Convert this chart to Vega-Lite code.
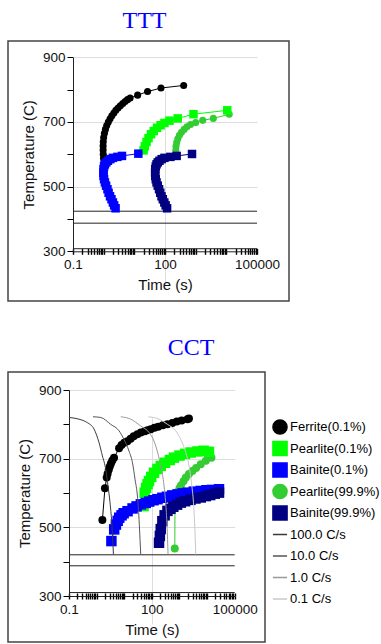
{
  "$schema": "https://vega.github.io/schema/vega-lite/v6.json",
  "autosize": {"type": "pad"},
  "padding": {"left": 7, "top": 8, "right": 0, "bottom": 0},
  "spacing": 33,
  "config": {
    "view": {"stroke": "#444444", "strokeWidth": 1.5},
    "font": "Liberation Sans",
    "title": {"font": "Liberation Serif", "fontSize": 24, "fontWeight": "normal", "color": "#0000ff", "anchor": "middle", "frame": "bounds", "offset": 8},
    "axis": {"labelFont": "Liberation Sans", "labelFontSize": 13.5, "labelColor": "#111111", "titleFont": "Liberation Sans", "titleFontSize": 15, "titleFontWeight": "normal", "titleColor": "#111111", "domainColor": "#222222", "tickColor": "#000000", "gridColor": "#dddddd", "labelOverlap": false, "labelFlush": false},
    "legend": {"symbolSize": 200, "symbolStrokeWidth": 1.5, "labelFont": "Liberation Sans", "labelFontSize": 13, "labelColor": "#000000", "rowPadding": 4.5, "clipHeight": 17, "labelOffset": 2, "padding": 0}
  },
  "resolve": {"scale": {"x": "independent", "y": "independent", "fill": "independent", "stroke": "independent", "shape": "independent"}},
  "datasets": {
    "ttt_ms": [{"T": 424, "t0": 0.1, "t1": 100000}, {"T": 387, "t0": 0.1, "t1": 100000}, {"T": 308, "t0": 0.1, "t1": 100000}],
    "cct_ms": [{"T": 420, "t0": 0.1, "t1": 100000}, {"T": 388, "t0": 0.1, "t1": 100000}, {"T": 310, "t0": 0.1, "t1": 100000}],
    "ttt": [
      {"s": "Ferrite(0.1%)", "i": 1, "t": 1.02, "T": 575},
      {"s": "Ferrite(0.1%)", "i": 2, "t": 0.99, "T": 588},
      {"s": "Ferrite(0.1%)", "i": 3, "t": 0.97, "T": 600},
      {"s": "Ferrite(0.1%)", "i": 4, "t": 0.96, "T": 613},
      {"s": "Ferrite(0.1%)", "i": 5, "t": 0.96, "T": 626},
      {"s": "Ferrite(0.1%)", "i": 6, "t": 0.97, "T": 639},
      {"s": "Ferrite(0.1%)", "i": 7, "t": 1.0, "T": 652},
      {"s": "Ferrite(0.1%)", "i": 8, "t": 1.06, "T": 665},
      {"s": "Ferrite(0.1%)", "i": 9, "t": 1.14, "T": 677},
      {"s": "Ferrite(0.1%)", "i": 10, "t": 1.26, "T": 689},
      {"s": "Ferrite(0.1%)", "i": 11, "t": 1.42, "T": 700},
      {"s": "Ferrite(0.1%)", "i": 12, "t": 1.62, "T": 710},
      {"s": "Ferrite(0.1%)", "i": 13, "t": 1.85, "T": 719},
      {"s": "Ferrite(0.1%)", "i": 14, "t": 2.15, "T": 728},
      {"s": "Ferrite(0.1%)", "i": 15, "t": 2.5, "T": 736},
      {"s": "Ferrite(0.1%)", "i": 16, "t": 2.95, "T": 743},
      {"s": "Ferrite(0.1%)", "i": 17, "t": 3.5, "T": 750},
      {"s": "Ferrite(0.1%)", "i": 18, "t": 4.2, "T": 757},
      {"s": "Ferrite(0.1%)", "i": 19, "t": 5.0, "T": 763},
      {"s": "Ferrite(0.1%)", "i": 20, "t": 6.0, "T": 769},
      {"s": "Ferrite(0.1%)", "i": 21, "t": 7.3, "T": 774},
      {"s": "Ferrite(0.1%)", "i": 22, "t": 12.8, "T": 783},
      {"s": "Ferrite(0.1%)", "i": 23, "t": 27, "T": 794},
      {"s": "Ferrite(0.1%)", "i": 24, "t": 74, "T": 805},
      {"s": "Ferrite(0.1%)", "i": 25, "t": 407, "T": 813},
      {"s": "Pearlite(0.1%)", "i": 1, "t": 20, "T": 612},
      {"s": "Pearlite(0.1%)", "i": 2, "t": 22, "T": 625},
      {"s": "Pearlite(0.1%)", "i": 3, "t": 25, "T": 638},
      {"s": "Pearlite(0.1%)", "i": 4, "t": 29, "T": 650},
      {"s": "Pearlite(0.1%)", "i": 5, "t": 35, "T": 662},
      {"s": "Pearlite(0.1%)", "i": 6, "t": 43, "T": 672},
      {"s": "Pearlite(0.1%)", "i": 7, "t": 55, "T": 682},
      {"s": "Pearlite(0.1%)", "i": 8, "t": 72, "T": 690},
      {"s": "Pearlite(0.1%)", "i": 9, "t": 96, "T": 697},
      {"s": "Pearlite(0.1%)", "i": 10, "t": 140, "T": 704},
      {"s": "Pearlite(0.1%)", "i": 11, "t": 260, "T": 711},
      {"s": "Pearlite(0.1%)", "i": 12, "t": 850, "T": 724},
      {"s": "Pearlite(0.1%)", "i": 13, "t": 10700, "T": 736},
      {"s": "Bainite(0.1%)", "i": 1, "t": 2.45, "T": 433},
      {"s": "Bainite(0.1%)", "i": 2, "t": 2.2, "T": 442},
      {"s": "Bainite(0.1%)", "i": 3, "t": 2.0, "T": 451},
      {"s": "Bainite(0.1%)", "i": 4, "t": 1.8, "T": 461},
      {"s": "Bainite(0.1%)", "i": 5, "t": 1.61, "T": 470},
      {"s": "Bainite(0.1%)", "i": 6, "t": 1.45, "T": 481},
      {"s": "Bainite(0.1%)", "i": 7, "t": 1.33, "T": 492},
      {"s": "Bainite(0.1%)", "i": 8, "t": 1.2, "T": 503},
      {"s": "Bainite(0.1%)", "i": 9, "t": 1.1, "T": 513},
      {"s": "Bainite(0.1%)", "i": 10, "t": 1.03, "T": 523},
      {"s": "Bainite(0.1%)", "i": 11, "t": 0.99, "T": 533},
      {"s": "Bainite(0.1%)", "i": 12, "t": 0.98, "T": 543},
      {"s": "Bainite(0.1%)", "i": 13, "t": 0.99, "T": 554},
      {"s": "Bainite(0.1%)", "i": 14, "t": 1.03, "T": 562},
      {"s": "Bainite(0.1%)", "i": 15, "t": 1.1, "T": 569},
      {"s": "Bainite(0.1%)", "i": 16, "t": 1.22, "T": 575},
      {"s": "Bainite(0.1%)", "i": 17, "t": 1.38, "T": 580},
      {"s": "Bainite(0.1%)", "i": 18, "t": 1.65, "T": 585},
      {"s": "Bainite(0.1%)", "i": 19, "t": 2.0, "T": 589},
      {"s": "Bainite(0.1%)", "i": 20, "t": 2.8, "T": 592},
      {"s": "Bainite(0.1%)", "i": 21, "t": 3.96, "T": 595},
      {"s": "Bainite(0.1%)", "i": 22, "t": 13.5, "T": 602},
      {"s": "Pearlite(99.9%)", "i": 1, "t": 225, "T": 612},
      {"s": "Pearlite(99.9%)", "i": 2, "t": 228, "T": 624},
      {"s": "Pearlite(99.9%)", "i": 3, "t": 240, "T": 636},
      {"s": "Pearlite(99.9%)", "i": 4, "t": 262, "T": 648},
      {"s": "Pearlite(99.9%)", "i": 5, "t": 295, "T": 659},
      {"s": "Pearlite(99.9%)", "i": 6, "t": 345, "T": 668},
      {"s": "Pearlite(99.9%)", "i": 7, "t": 420, "T": 677},
      {"s": "Pearlite(99.9%)", "i": 8, "t": 520, "T": 685},
      {"s": "Pearlite(99.9%)", "i": 9, "t": 680, "T": 692},
      {"s": "Pearlite(99.9%)", "i": 10, "t": 1000, "T": 698},
      {"s": "Pearlite(99.9%)", "i": 11, "t": 1700, "T": 705},
      {"s": "Pearlite(99.9%)", "i": 12, "t": 3760, "T": 711},
      {"s": "Pearlite(99.9%)", "i": 13, "t": 12400, "T": 724},
      {"s": "Bainite(99.9%)", "i": 1, "t": 117, "T": 433},
      {"s": "Bainite(99.9%)", "i": 2, "t": 105, "T": 442},
      {"s": "Bainite(99.9%)", "i": 3, "t": 95, "T": 451},
      {"s": "Bainite(99.9%)", "i": 4, "t": 85, "T": 461},
      {"s": "Bainite(99.9%)", "i": 5, "t": 77, "T": 470},
      {"s": "Bainite(99.9%)", "i": 6, "t": 70, "T": 481},
      {"s": "Bainite(99.9%)", "i": 7, "t": 64, "T": 492},
      {"s": "Bainite(99.9%)", "i": 8, "t": 58, "T": 503},
      {"s": "Bainite(99.9%)", "i": 9, "t": 53, "T": 513},
      {"s": "Bainite(99.9%)", "i": 10, "t": 50, "T": 523},
      {"s": "Bainite(99.9%)", "i": 11, "t": 48, "T": 533},
      {"s": "Bainite(99.9%)", "i": 12, "t": 47.5, "T": 543},
      {"s": "Bainite(99.9%)", "i": 13, "t": 48, "T": 554},
      {"s": "Bainite(99.9%)", "i": 14, "t": 50, "T": 562},
      {"s": "Bainite(99.9%)", "i": 15, "t": 53, "T": 569},
      {"s": "Bainite(99.9%)", "i": 16, "t": 58, "T": 575},
      {"s": "Bainite(99.9%)", "i": 17, "t": 66, "T": 580},
      {"s": "Bainite(99.9%)", "i": 18, "t": 78, "T": 585},
      {"s": "Bainite(99.9%)", "i": 19, "t": 96, "T": 589},
      {"s": "Bainite(99.9%)", "i": 20, "t": 150, "T": 592},
      {"s": "Bainite(99.9%)", "i": 21, "t": 240, "T": 595},
      {"s": "Bainite(99.9%)", "i": 22, "t": 760, "T": 601}
    ],
    "cct": [
      {"s": "Ferrite(0.1%)", "i": 1, "t": 1.62, "T": 521},
      {"s": "Ferrite(0.1%)", "i": 2, "t": 2.0, "T": 614},
      {"s": "Ferrite(0.1%)", "i": 3, "t": 2.32, "T": 645},
      {"s": "Ferrite(0.1%)", "i": 4, "t": 2.5, "T": 656},
      {"s": "Ferrite(0.1%)", "i": 5, "t": 2.75, "T": 668},
      {"s": "Ferrite(0.1%)", "i": 6, "t": 3.0, "T": 677},
      {"s": "Ferrite(0.1%)", "i": 7, "t": 3.3, "T": 686},
      {"s": "Ferrite(0.1%)", "i": 8, "t": 3.7, "T": 695},
      {"s": "Ferrite(0.1%)", "i": 9, "t": 4.27, "T": 703},
      {"s": "Ferrite(0.1%)", "i": 10, "t": 6.5, "T": 730},
      {"s": "Ferrite(0.1%)", "i": 11, "t": 8, "T": 740},
      {"s": "Ferrite(0.1%)", "i": 12, "t": 10, "T": 746},
      {"s": "Ferrite(0.1%)", "i": 13, "t": 13, "T": 751},
      {"s": "Ferrite(0.1%)", "i": 14, "t": 17, "T": 758},
      {"s": "Ferrite(0.1%)", "i": 15, "t": 22, "T": 765},
      {"s": "Ferrite(0.1%)", "i": 16, "t": 30, "T": 771},
      {"s": "Ferrite(0.1%)", "i": 17, "t": 40, "T": 776},
      {"s": "Ferrite(0.1%)", "i": 18, "t": 55, "T": 780},
      {"s": "Ferrite(0.1%)", "i": 19, "t": 70, "T": 783},
      {"s": "Ferrite(0.1%)", "i": 20, "t": 91, "T": 786},
      {"s": "Ferrite(0.1%)", "i": 21, "t": 125, "T": 790},
      {"s": "Ferrite(0.1%)", "i": 22, "t": 170, "T": 793},
      {"s": "Ferrite(0.1%)", "i": 23, "t": 250, "T": 797},
      {"s": "Ferrite(0.1%)", "i": 24, "t": 367, "T": 800},
      {"s": "Ferrite(0.1%)", "i": 25, "t": 550, "T": 804},
      {"s": "Ferrite(0.1%)", "i": 26, "t": 800, "T": 808},
      {"s": "Ferrite(0.1%)", "i": 27, "t": 1200, "T": 811},
      {"s": "Ferrite(0.1%)", "i": 28, "t": 1950, "T": 815},
      {"s": "Ferrite(0.1%)", "i": 29, "t": 2200, "T": 817},
      {"s": "Pearlite(0.1%)", "i": 1, "t": 50, "T": 562},
      {"s": "Pearlite(0.1%)", "i": 2, "t": 55, "T": 601},
      {"s": "Pearlite(0.1%)", "i": 3, "t": 62, "T": 615},
      {"s": "Pearlite(0.1%)", "i": 4, "t": 70, "T": 626},
      {"s": "Pearlite(0.1%)", "i": 5, "t": 79, "T": 635},
      {"s": "Pearlite(0.1%)", "i": 6, "t": 95, "T": 647},
      {"s": "Pearlite(0.1%)", "i": 7, "t": 120, "T": 659},
      {"s": "Pearlite(0.1%)", "i": 8, "t": 160, "T": 670},
      {"s": "Pearlite(0.1%)", "i": 9, "t": 210, "T": 679},
      {"s": "Pearlite(0.1%)", "i": 10, "t": 300, "T": 688},
      {"s": "Pearlite(0.1%)", "i": 11, "t": 450, "T": 696},
      {"s": "Pearlite(0.1%)", "i": 12, "t": 630, "T": 703},
      {"s": "Pearlite(0.1%)", "i": 13, "t": 1000, "T": 709},
      {"s": "Pearlite(0.1%)", "i": 14, "t": 1600, "T": 714},
      {"s": "Pearlite(0.1%)", "i": 15, "t": 2570, "T": 718},
      {"s": "Pearlite(0.1%)", "i": 16, "t": 4500, "T": 721},
      {"s": "Pearlite(0.1%)", "i": 17, "t": 7500, "T": 723},
      {"s": "Pearlite(0.1%)", "i": 18, "t": 11700, "T": 720},
      {"s": "Bainite(0.1%)", "i": 1, "t": 3.43, "T": 460},
      {"s": "Bainite(0.1%)", "i": 2, "t": 4.33, "T": 494},
      {"s": "Bainite(0.1%)", "i": 3, "t": 5.0, "T": 508},
      {"s": "Bainite(0.1%)", "i": 4, "t": 5.8, "T": 519},
      {"s": "Bainite(0.1%)", "i": 5, "t": 6.6, "T": 528},
      {"s": "Bainite(0.1%)", "i": 6, "t": 8, "T": 535},
      {"s": "Bainite(0.1%)", "i": 7, "t": 9.5, "T": 541},
      {"s": "Bainite(0.1%)", "i": 8, "t": 13.2, "T": 547},
      {"s": "Bainite(0.1%)", "i": 9, "t": 20, "T": 555},
      {"s": "Bainite(0.1%)", "i": 10, "t": 28, "T": 561},
      {"s": "Bainite(0.1%)", "i": 11, "t": 40, "T": 567},
      {"s": "Bainite(0.1%)", "i": 12, "t": 60, "T": 571},
      {"s": "Bainite(0.1%)", "i": 13, "t": 80, "T": 575},
      {"s": "Bainite(0.1%)", "i": 14, "t": 115, "T": 579},
      {"s": "Bainite(0.1%)", "i": 15, "t": 160, "T": 582},
      {"s": "Bainite(0.1%)", "i": 16, "t": 240, "T": 586},
      {"s": "Bainite(0.1%)", "i": 17, "t": 350, "T": 589},
      {"s": "Bainite(0.1%)", "i": 18, "t": 550, "T": 593},
      {"s": "Bainite(0.1%)", "i": 19, "t": 850, "T": 596},
      {"s": "Bainite(0.1%)", "i": 20, "t": 1300, "T": 599},
      {"s": "Bainite(0.1%)", "i": 21, "t": 2000, "T": 601},
      {"s": "Bainite(0.1%)", "i": 22, "t": 3300, "T": 604},
      {"s": "Bainite(0.1%)", "i": 23, "t": 5900, "T": 606},
      {"s": "Bainite(0.1%)", "i": 24, "t": 9500, "T": 608},
      {"s": "Bainite(0.1%)", "i": 25, "t": 15000, "T": 609},
      {"s": "Bainite(0.1%)", "i": 26, "t": 27000, "T": 611},
      {"s": "Pearlite(99.9%)", "i": 1, "t": 676, "T": 438},
      {"s": "Pearlite(99.9%)", "i": 2, "t": 690, "T": 575},
      {"s": "Pearlite(99.9%)", "i": 3, "t": 740, "T": 590},
      {"s": "Pearlite(99.9%)", "i": 4, "t": 850, "T": 603},
      {"s": "Pearlite(99.9%)", "i": 5, "t": 1000, "T": 614},
      {"s": "Pearlite(99.9%)", "i": 6, "t": 1130, "T": 622},
      {"s": "Pearlite(99.9%)", "i": 7, "t": 1400, "T": 634},
      {"s": "Pearlite(99.9%)", "i": 8, "t": 1700, "T": 645},
      {"s": "Pearlite(99.9%)", "i": 9, "t": 2200, "T": 655},
      {"s": "Pearlite(99.9%)", "i": 10, "t": 2940, "T": 664},
      {"s": "Pearlite(99.9%)", "i": 11, "t": 4000, "T": 673},
      {"s": "Pearlite(99.9%)", "i": 12, "t": 5900, "T": 684},
      {"s": "Pearlite(99.9%)", "i": 13, "t": 9000, "T": 694},
      {"s": "Pearlite(99.9%)", "i": 14, "t": 14400, "T": 703},
      {"s": "Bainite(99.9%)", "i": 1, "t": 182, "T": 455},
      {"s": "Bainite(99.9%)", "i": 2, "t": 195, "T": 475},
      {"s": "Bainite(99.9%)", "i": 3, "t": 210, "T": 495},
      {"s": "Bainite(99.9%)", "i": 4, "t": 240, "T": 518},
      {"s": "Bainite(99.9%)", "i": 5, "t": 290, "T": 535},
      {"s": "Bainite(99.9%)", "i": 6, "t": 367, "T": 548},
      {"s": "Bainite(99.9%)", "i": 7, "t": 470, "T": 554},
      {"s": "Bainite(99.9%)", "i": 8, "t": 600, "T": 560},
      {"s": "Bainite(99.9%)", "i": 9, "t": 820, "T": 566},
      {"s": "Bainite(99.9%)", "i": 10, "t": 1120, "T": 572},
      {"s": "Bainite(99.9%)", "i": 11, "t": 1600, "T": 576},
      {"s": "Bainite(99.9%)", "i": 12, "t": 2500, "T": 580},
      {"s": "Bainite(99.9%)", "i": 13, "t": 3800, "T": 584},
      {"s": "Bainite(99.9%)", "i": 14, "t": 5900, "T": 587},
      {"s": "Bainite(99.9%)", "i": 15, "t": 9000, "T": 591},
      {"s": "Bainite(99.9%)", "i": 16, "t": 13000, "T": 594},
      {"s": "Bainite(99.9%)", "i": 17, "t": 19000, "T": 598},
      {"s": "Bainite(99.9%)", "i": 18, "t": 27000, "T": 601}
    ],
    "cool": [
      {"s": "100.0 C/s", "t": 0.1, "T": 820},
      {"s": "100.0 C/s", "t": 0.23, "T": 815},
      {"s": "100.0 C/s", "t": 0.46, "T": 805},
      {"s": "100.0 C/s", "t": 0.81, "T": 786},
      {"s": "100.0 C/s", "t": 1.22, "T": 747},
      {"s": "100.0 C/s", "t": 1.62, "T": 708},
      {"s": "100.0 C/s", "t": 2.14, "T": 669},
      {"s": "100.0 C/s", "t": 2.59, "T": 620},
      {"s": "100.0 C/s", "t": 3.06, "T": 572},
      {"s": "100.0 C/s", "t": 3.53, "T": 514},
      {"s": "100.0 C/s", "t": 3.83, "T": 465},
      {"s": "100.0 C/s", "t": 4.06, "T": 421},
      {"s": "10.0 C/s", "t": 0.74, "T": 822},
      {"s": "10.0 C/s", "t": 1.41, "T": 820},
      {"s": "10.0 C/s", "t": 3.24, "T": 800},
      {"s": "10.0 C/s", "t": 6.5, "T": 781},
      {"s": "10.0 C/s", "t": 9.8, "T": 756},
      {"s": "10.0 C/s", "t": 14.9, "T": 722},
      {"s": "10.0 C/s", "t": 19.8, "T": 689},
      {"s": "10.0 C/s", "t": 24.6, "T": 640},
      {"s": "10.0 C/s", "t": 30, "T": 591},
      {"s": "10.0 C/s", "t": 34.4, "T": 523},
      {"s": "10.0 C/s", "t": 37.3, "T": 465},
      {"s": "10.0 C/s", "t": 39.6, "T": 421},
      {"s": "1.0 C/s", "t": 7.5, "T": 822},
      {"s": "1.0 C/s", "t": 17.2, "T": 815},
      {"s": "1.0 C/s", "t": 39.6, "T": 795},
      {"s": "1.0 C/s", "t": 79.5, "T": 776},
      {"s": "1.0 C/s", "t": 120, "T": 751},
      {"s": "1.0 C/s", "t": 168, "T": 713},
      {"s": "1.0 C/s", "t": 210, "T": 679},
      {"s": "1.0 C/s", "t": 277, "T": 620},
      {"s": "1.0 C/s", "t": 316, "T": 572},
      {"s": "1.0 C/s", "t": 355, "T": 504},
      {"s": "1.0 C/s", "t": 386, "T": 421},
      {"s": "0.1 C/s", "t": 75, "T": 822},
      {"s": "0.1 C/s", "t": 182, "T": 815},
      {"s": "0.1 C/s", "t": 367, "T": 800},
      {"s": "0.1 C/s", "t": 735, "T": 781},
      {"s": "0.1 C/s", "t": 1114, "T": 756},
      {"s": "0.1 C/s", "t": 1690, "T": 718},
      {"s": "0.1 C/s", "t": 2230, "T": 679},
      {"s": "0.1 C/s", "t": 2720, "T": 630},
      {"s": "0.1 C/s", "t": 3210, "T": 572},
      {"s": "0.1 C/s", "t": 3580, "T": 504},
      {"s": "0.1 C/s", "t": 3890, "T": 421}
    ]
  },
  "vconcat": [
    {
      "title": {"text": "TTT", "dx": -4},
      "width": 281,
      "height": 260,
      "resolve": {"axis": {"x": "independent"}},
      "layer": [
        {
          "data": {"name": "ttt_ms"},
          "mark": {"type": "rule", "color": "#222222", "strokeWidth": 1},
          "encoding": {
            "x": {"field": "t0", "type": "quantitative",
              "scale": {"type": "log", "domain": [0.1, 100000], "range": [65, 249], "nice": false},
              "axis": {"title": "Time (s)", "orient": "bottom", "offset": -49.7, "tickSize": 3, "tickWidth": 1.4, "labelPadding": 3, "titlePadding": 7,
                "values": [0.1,0.2,0.3,0.4,0.5,0.6,0.7,0.8,0.9,1,2,3,4,5,6,7,8,9,10,20,30,40,50,60,70,80,90,100,200,300,400,500,600,700,800,900,1000,2000,3000,4000,5000,6000,7000,8000,9000,10000,20000,30000,40000,50000,60000,70000,80000,90000,100000],
                "labelExpr": "datum.value == 0.1 ? '0.1' : datum.value == 100 ? '100' : datum.value == 100000 ? '100000' : ''",
                "grid": true, "gridOpacity": {"condition": {"test": "datum.value == 100", "value": 1}, "value": 0}}},
            "x2": {"field": "t1"},
            "y": {"field": "T", "type": "quantitative",
              "scale": {"domain": [300, 900], "range": [210.3, 16.3], "nice": false, "zero": false},
              "axis": {"title": "Temperature (C)", "offset": -65, "tickSize": 6, "labelPadding": 2, "titlePadding": 6,
                "values": [300,400,500,600,700,800,900],
                "labelExpr": "datum.value % 200 == 100 ? datum.label : ''",
                "grid": true, "gridOpacity": {"condition": {"test": "datum.value == 500 || datum.value == 700 || datum.value == 900", "value": 1}, "value": 0}}}
          }
        },
        {
          "data": {"name": "ttt"},
          "mark": {"type": "line", "strokeWidth": 1},
          "encoding": {
            "x": {"field": "t", "type": "quantitative",
              "axis": {"orient": "bottom", "offset": -49.7, "tickSize": -3, "tickWidth": 1.4, "labels": false, "domain": false, "title": null, "grid": false,
                "values": [0.1,0.2,0.3,0.4,0.5,0.6,0.7,0.8,0.9,1,2,3,4,5,6,7,8,9,10,20,30,40,50,60,70,80,90,100,200,300,400,500,600,700,800,900,1000,2000,3000,4000,5000,6000,7000,8000,9000,10000,20000,30000,40000,50000,60000,70000,80000,90000,100000]}},
            "y": {"field": "T", "type": "quantitative"},
            "order": {"field": "i", "type": "quantitative"},
            "stroke": {"field": "s", "type": "nominal", "legend": null,
              "scale": {"domain": ["Ferrite(0.1%)", "Pearlite(0.1%)", "Bainite(0.1%)", "Pearlite(99.9%)", "Bainite(99.9%)"], "range": ["#000000", "#00ff00", "#0000ff", "#33cc33", "#000080"]}}
          }
        },
        {
          "data": {"name": "ttt"},
          "transform": [{"filter": {"field": "s", "oneOf": ["Ferrite(0.1%)", "Pearlite(99.9%)"]}}],
          "mark": {"type": "point", "filled": true, "size": 50, "opacity": 1},
          "encoding": {
            "x": {"field": "t", "type": "quantitative", "axis": null},
            "y": {"field": "T", "type": "quantitative"},
            "fill": {"field": "s", "type": "nominal", "legend": null,
              "scale": {"domain": ["Ferrite(0.1%)", "Pearlite(0.1%)", "Bainite(0.1%)", "Pearlite(99.9%)", "Bainite(99.9%)"], "range": ["#000000", "#00ff00", "#0000ff", "#33cc33", "#000080"]}},
            "shape": {"field": "s", "type": "nominal", "legend": null,
              "scale": {"domain": ["Ferrite(0.1%)", "Pearlite(0.1%)", "Bainite(0.1%)", "Pearlite(99.9%)", "Bainite(99.9%)"], "range": ["circle", "square", "square", "circle", "square"]}}
          }
        },
        {
          "data": {"name": "ttt"},
          "transform": [{"filter": {"field": "s", "oneOf": ["Pearlite(0.1%)", "Bainite(0.1%)", "Bainite(99.9%)"]}}],
          "mark": {"type": "point", "filled": true, "size": 72, "opacity": 1},
          "encoding": {
            "x": {"field": "t", "type": "quantitative", "axis": null},
            "y": {"field": "T", "type": "quantitative"},
            "fill": {"field": "s", "type": "nominal", "legend": null},
            "shape": {"field": "s", "type": "nominal", "legend": null}
          }
        }
      ]
    },
    {
      "title": {"text": "CCT", "offset": 12, "dx": -3},
      "width": 257,
      "height": 270,
      "resolve": {"axis": {"x": "independent"}},
      "layer": [
        {
          "data": {"name": "cct_ms"},
          "mark": {"type": "rule", "color": "#222222", "strokeWidth": 1},
          "encoding": {
            "x": {"field": "t0", "type": "quantitative",
              "scale": {"type": "log", "domain": [0.1, 100000], "range": [61, 226.7], "nice": false},
              "axis": {"title": "Time (s)", "orient": "bottom", "offset": -46, "tickSize": 3, "tickWidth": 1.4, "labelPadding": 3, "titlePadding": 7,
                "values": [0.1,0.2,0.3,0.4,0.5,0.6,0.7,0.8,0.9,1,2,3,4,5,6,7,8,9,10,20,30,40,50,60,70,80,90,100,200,300,400,500,600,700,800,900,1000,2000,3000,4000,5000,6000,7000,8000,9000,10000,20000,30000,40000,50000,60000,70000,80000,90000,100000],
                "labelExpr": "datum.value == 0.1 ? '0.1' : datum.value == 100 ? '100' : datum.value == 100000 ? '100000' : ''",
                "grid": true, "gridOpacity": {"condition": {"test": "datum.value == 100", "value": 1}, "value": 0}}},
            "x2": {"field": "t1"},
            "y": {"field": "T", "type": "quantitative",
              "scale": {"domain": [300, 900], "range": [224, 18], "nice": false, "zero": false},
              "axis": {"title": "Temperature (C)", "offset": -61, "tickSize": 6, "labelPadding": 2, "titlePadding": 6,
                "values": [300,400,500,600,700,800,900],
                "labelExpr": "datum.value % 200 == 100 ? datum.label : ''",
                "grid": true, "gridOpacity": {"condition": {"test": "datum.value == 500 || datum.value == 700 || datum.value == 900", "value": 1}, "value": 0}}}
          }
        },
        {
          "data": {"name": "cct"},
          "mark": {"type": "line", "strokeWidth": 1},
          "encoding": {
            "x": {"field": "t", "type": "quantitative",
              "axis": {"orient": "bottom", "offset": -46, "tickSize": -3, "tickWidth": 1.4, "labels": false, "domain": false, "title": null, "grid": false,
                "values": [0.1,0.2,0.3,0.4,0.5,0.6,0.7,0.8,0.9,1,2,3,4,5,6,7,8,9,10,20,30,40,50,60,70,80,90,100,200,300,400,500,600,700,800,900,1000,2000,3000,4000,5000,6000,7000,8000,9000,10000,20000,30000,40000,50000,60000,70000,80000,90000,100000]}},
            "y": {"field": "T", "type": "quantitative"},
            "order": {"field": "i", "type": "quantitative"},
            "stroke": {"field": "s", "type": "nominal",
              "scale": {"domain": ["Ferrite(0.1%)", "Pearlite(0.1%)", "Bainite(0.1%)", "Pearlite(99.9%)", "Bainite(99.9%)", "100.0 C/s", "10.0 C/s", "1.0 C/s", "0.1 C/s"], "range": ["#000000", "#00ff00", "#0000ff", "#33cc33", "#000080", "#3a3a3a", "#555555", "#999999", "#c8c8c8"]},
              "legend": {"title": null, "orient": "none", "legendX": 264, "legendY": 46.5, "direction": "vertical"}}
          }
        },
        {
          "data": {"name": "cct"},
          "transform": [{"filter": {"field": "s", "oneOf": ["Ferrite(0.1%)", "Pearlite(99.9%)"]}}],
          "mark": {"type": "point", "filled": true, "size": 64, "opacity": 1},
          "encoding": {
            "x": {"field": "t", "type": "quantitative", "axis": null},
            "y": {"field": "T", "type": "quantitative"},
            "fill": {"field": "s", "type": "nominal",
              "scale": {"domain": ["Ferrite(0.1%)", "Pearlite(0.1%)", "Bainite(0.1%)", "Pearlite(99.9%)", "Bainite(99.9%)", "100.0 C/s", "10.0 C/s", "1.0 C/s", "0.1 C/s"], "range": ["#000000", "#00ff00", "#0000ff", "#33cc33", "#000080", "transparent", "transparent", "transparent", "transparent"]},
              "legend": {"title": null, "orient": "none", "legendX": 264, "legendY": 46.5, "direction": "vertical"}},
            "shape": {"field": "s", "type": "nominal",
              "scale": {"domain": ["Ferrite(0.1%)", "Pearlite(0.1%)", "Bainite(0.1%)", "Pearlite(99.9%)", "Bainite(99.9%)", "100.0 C/s", "10.0 C/s", "1.0 C/s", "0.1 C/s"], "range": ["circle", "square", "square", "circle", "square", "stroke", "stroke", "stroke", "stroke"]},
              "legend": {"title": null, "orient": "none", "legendX": 264, "legendY": 46.5, "direction": "vertical"}}
          }
        },
        {
          "data": {"name": "cct"},
          "transform": [{"filter": {"field": "s", "oneOf": ["Pearlite(0.1%)", "Bainite(0.1%)", "Bainite(99.9%)"]}}],
          "mark": {"type": "point", "filled": true, "size": 110, "opacity": 1},
          "encoding": {
            "x": {"field": "t", "type": "quantitative", "axis": null},
            "y": {"field": "T", "type": "quantitative"},
            "fill": {"field": "s", "type": "nominal", "legend": {"title": null, "orient": "none", "legendX": 264, "legendY": 46.5, "direction": "vertical"}},
            "shape": {"field": "s", "type": "nominal", "legend": {"title": null, "orient": "none", "legendX": 264, "legendY": 46.5, "direction": "vertical"}}
          }
        },
        {
          "data": {"name": "cool"},
          "mark": {"type": "line", "strokeWidth": 1, "interpolate": "monotone"},
          "encoding": {
            "x": {"field": "t", "type": "quantitative", "axis": null},
            "y": {"field": "T", "type": "quantitative"},
            "stroke": {"field": "s", "type": "nominal", "legend": {"title": null, "orient": "none", "legendX": 264, "legendY": 46.5, "direction": "vertical"}}
          }
        }
      ]
    }
  ]
}
